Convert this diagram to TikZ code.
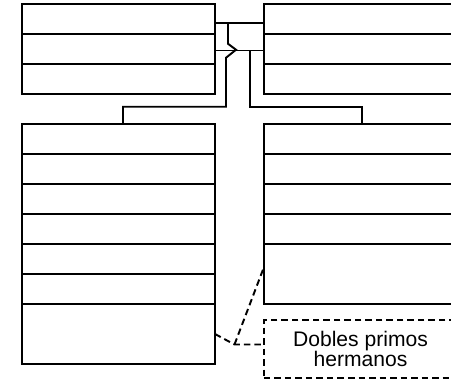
\documentclass[tikz,border=0pt]{standalone}
\usepackage{fontspec}
\setmainfont{Liberation Sans}
\usepackage{tikz}
\usetikzlibrary{positioning,calc}

\begin{document}
\begin{tikzpicture}[auto, >=latex, line width=1.1pt,
    cell/.style={draw, rectangle, inner sep=0pt, outer sep=0pt, minimum width=3.86cm, minimum height=0.6cm},
    tallcell/.style={cell, minimum height=1.2cm},
    link/.style={dash pattern=on 0.13cm off 0.08cm}]
    \useasboundingbox (0,0) rectangle (9.02,-7.58);

    % parents
    \node [cell] (parentL1) at (2.37,-0.38) {};
    \node [cell, below=0pt of parentL1] (parentL2) {};
    \node [cell, below=0pt of parentL2] (parentL3) {};
    \node [cell] (parentR1) at (7.21,-0.38) {};
    \node [cell, below=0pt of parentR1] (parentR2) {};
    \node [cell, below=0pt of parentR2] (parentR3) {};

    % children
    \node [cell] (childL1) at (2.37,-2.78) {};
    \foreach \i [count=\j from 2] in {1,...,5}
        \node [cell, below=0pt of childL\i] (childL\j) {};
    \node [tallcell, below=0pt of childL6] (childL7) {};
    \node [cell] (childR1) at (7.21,-2.78) {};
    \foreach \i [count=\j from 2] in {1,...,3}
        \node [cell, below=0pt of childR\i] (childR\j) {};
    \node [tallcell, below=0pt of childR4] (childR5) {};

    \node [cell, link, minimum height=1.16cm, align=center, font=\fontsize{12}{11.5}\selectfont] (note) at (7.21,-6.98) {Dobles primos\\hermanos};

    % couples
    \draw ([yshift=-0.075cm]parentL1.east) -- coordinate[pos=0.265] (mid1) ([yshift=-0.075cm]parentR1.west);
    \draw ([yshift=-0.03cm]parentL2.east) -- coordinate[pos=0.714] (mid2) ([yshift=-0.03cm]parentR2.west);

    % descent
    \draw (mid1) -- ++(0,-0.42) -- ++(0.16,-0.12) -- ++(-0.2,-0.16) -- ++(0,-0.98) -| ([xshift=0.09cm]childL1.north);
    \draw (mid2) -- ++(0,-1.13) -| ([xshift=0.03cm]childR1.north);

    % note
    \coordinate (knot) at ($(childL7.east)+(0.39,-0.21)$);
    \draw [link] (childL7.east) -- (knot) -- (note.west |- knot);
    \draw [link] (knot) -- ([yshift=0.14cm]childR5.west);
\end{tikzpicture}
\end{document}
